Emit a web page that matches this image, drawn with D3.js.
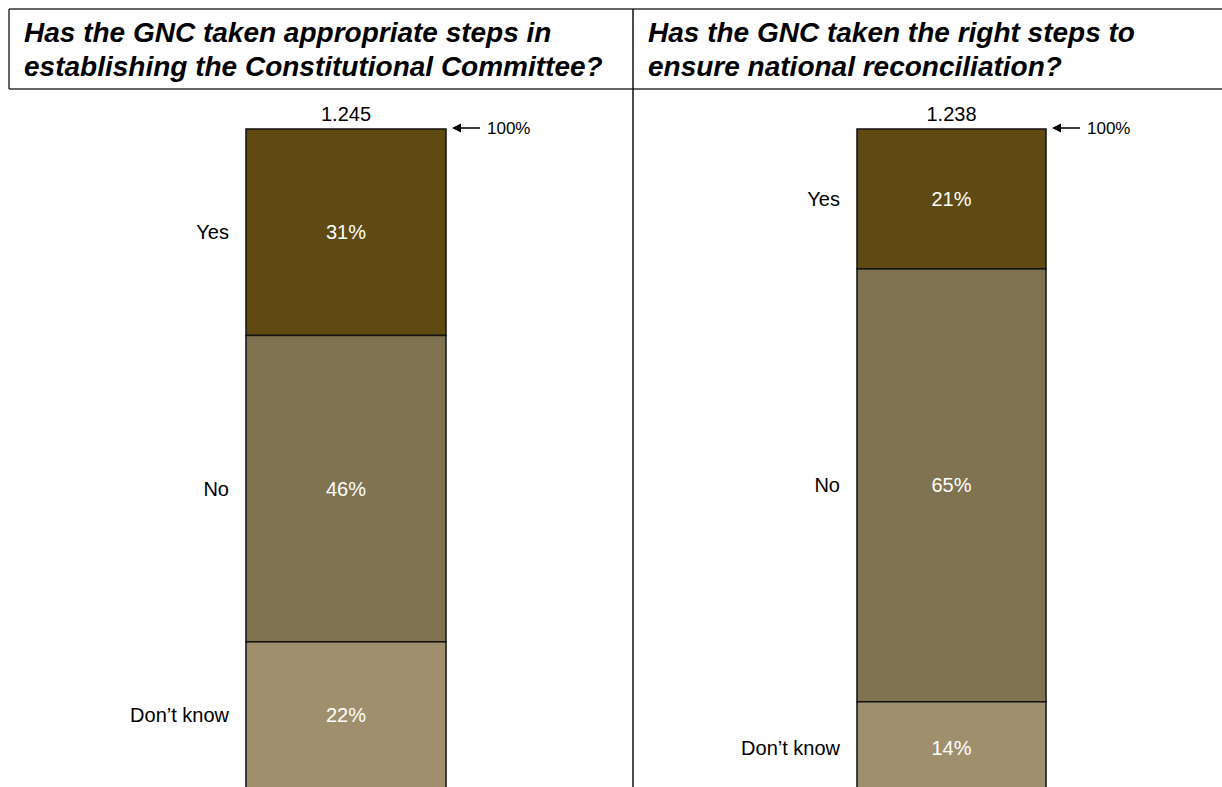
<!DOCTYPE html>
<html><head><meta charset="utf-8">
<script src="https://cdn.jsdelivr.net/npm/d3@7"></script>
<style>body{margin:0;background:#fff;} svg{display:block;font-family:"Liberation Sans",Arial,sans-serif;}</style>
</head><body>
<svg id="chart" width="1222" height="787"></svg>
<script>
const categories = ["Yes", "No", "Don\u2019t know"];
const titlesLeft = ["Has the GNC taken appropriate steps in", "establishing the Constitutional Committee?"];
const titlesRight = ["Has the GNC taken the right steps to", "ensure national reconciliation?"];
const totals = ["1.245", "1.238"];
const valuesLeft = [31, 46, 22];
const valuesRight = [21, 65, 14];
const colors = ["#5f4b12", "#7f7352", "#9f8f6d"];

const svg = d3.select("#chart");
const W = 1222, H = 787;

// header frame
const lineCol = "#333";
svg.append("line").attr("x1",9).attr("x2",W).attr("y1",9).attr("y2",9).attr("stroke",lineCol).attr("stroke-width",1.5);
svg.append("line").attr("x1",9).attr("x2",W).attr("y1",89).attr("y2",89).attr("stroke",lineCol).attr("stroke-width",1.5);
svg.append("line").attr("x1",9).attr("x2",9).attr("y1",9).attr("y2",89).attr("stroke",lineCol).attr("stroke-width",1.5);
svg.append("line").attr("x1",633).attr("x2",633).attr("y1",9).attr("y2",H).attr("stroke","#111").attr("stroke-width",1.5);

const panels = [
  {title: titlesLeft, total: totals[0], values: valuesLeft, tx: 24, x0: 246, x1: 446, lx: 229},
  {title: titlesRight, total: totals[1], values: valuesRight, tx: 648, x0: 857, x1: 1046, lx: 840}
];

const y = d3.scaleLinear().domain([0, 100]).range([129, 129 + 666]);

panels.forEach(p => {
  const t = svg.append("text").attr("font-weight","bold").attr("font-style","italic")
    .attr("font-size",28).attr("fill","#000");
  p.title.forEach((s,i) => t.append("tspan").attr("x",p.tx).attr("y",42 + i*34).text(s));

  let cum = 0;
  const segs = p.values.map((v,i) => { const s = {cat: categories[i], v, start: cum, end: cum + v, c: colors[i]}; cum += v; return s; });
  const x = d3.scaleLinear().domain([0,1]).range([p.x0, p.x1]);
  const g = svg.append("g");
  g.selectAll("rect").data(segs).join("rect")
    .attr("x", x(0)).attr("width", x(1) - x(0))
    .attr("y", d => y(d.start)).attr("height", d => y(d.end) - y(d.start))
    .attr("fill", d => d.c).attr("stroke","#111").attr("stroke-width",1.5);
  g.selectAll("text.pct").data(segs).join("text").attr("class","pct")
    .attr("x", (x(0)+x(1))/2).attr("y", d => (y(d.start)+y(d.end))/2)
    .attr("dy","0.35em").attr("text-anchor","middle").attr("fill","#fff").attr("font-size",20)
    .text(d => d.v + "%");
  g.selectAll("text.cat").data(segs).join("text").attr("class","cat")
    .attr("x", p.lx).attr("y", d => (y(d.start)+y(d.end))/2)
    .attr("dy","0.35em").attr("text-anchor","end").attr("fill","#000").attr("font-size",20)
    .text(d => d.cat);
  g.append("text").attr("x",(x(0)+x(1))/2).attr("y",y(0)-8).attr("text-anchor","middle")
    .attr("font-size",20).attr("fill","#000").text(p.total);
  // 100% arrow
  const ay = y(0) - 1;
  g.append("line").attr("x1", p.x1 + 10).attr("x2", p.x1 + 34).attr("y1", ay).attr("y2", ay).attr("stroke","#000").attr("stroke-width",1.5);
  g.append("path").attr("d", `M${p.x1+6},${ay} L${p.x1+15},${ay-4.5} L${p.x1+15},${ay+4.5} Z`).attr("fill","#000");
  g.append("text").attr("x", p.x1 + 41).attr("y", ay).attr("dy","0.35em").attr("font-size",17).attr("fill","#000").text("100%");
});
</script>
</body></html>
